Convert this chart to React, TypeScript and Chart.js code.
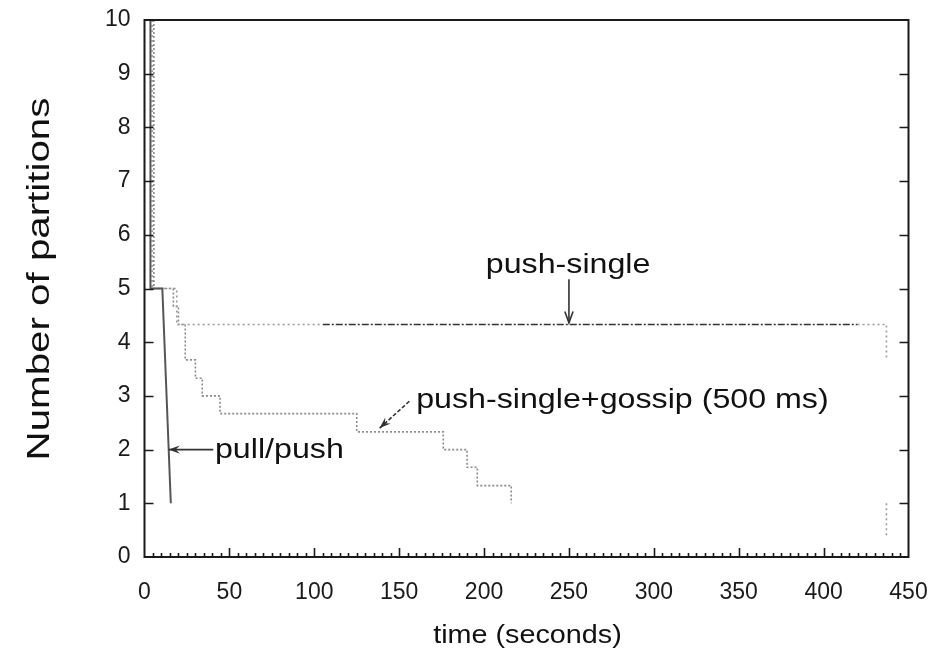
import React, { useEffect, useRef } from "react";
import { Chart, registerables } from "chart.js";

Chart.register(...registerables);

// ---- data ----
const pullPushTime = [3.5, 3.5, 10.5, 15.5];
const pullPushCount = [10, 5, 5, 1];

const pushSingleTime = [4.5, 4.5, 19, 19, 105, 420, 437, 437, 437, 437, 437];
const pushSingleCount = [10, 5, 5, 4.33, 4.33, 4.33, 4.33, 3.7, null, 1.0, 0.35];

const gossipTime = [5.5, 5.5, 17, 17, 20, 20, 24, 24, 30, 30, 34, 34, 44.5, 44.5, 125, 125, 176, 176, 190, 190, 196, 196, 216, 216];
const gossipCount = [10, 5, 5, 4.67, 4.67, 4.33, 4.33, 3.67, 3.67, 3.33, 3.33, 3, 3, 2.67, 2.67, 2.33, 2.33, 2, 2, 1.67, 1.67, 1.33, 1.33, 1];

const xMin = 0;
const xMax = 450;
const xMinorStep = 5;
const xMajorStep = 50;
const yMin = 0;
const yMax = 10;
const yStep = 1;

const xTitle = "time (seconds)";
const yTitle = "Number of partitions";

const annotationLabels = ["push-single", "push-single+gossip (500 ms)", "pull/push"];
const annotationTextAt = [[201, 5.44], [160, 2.92], [41.5, 1.99]];
const annotationFrom = [[250, 5.17], [156, 2.9], [40.5, 2.0]];
const annotationTo = [[250, 4.36], [138.5, 2.4], [14.2, 2.0]];

const FONT = '"Liberation Sans", Arial, Helvetica, sans-serif';

const toPoints = (xs: number[], ys: (number | null)[]) => xs.map((x, i) => ({ x, y: ys[i] }));

function drawArrow(ctx: CanvasRenderingContext2D, x0: number, y0: number, x1: number, y1: number, kind: string, dash: number[]) {
  const ang = Math.atan2(y1 - y0, x1 - x0);
  const hl = 12;
  const hw = 0.35;
  ctx.save();
  ctx.strokeStyle = "#333";
  ctx.fillStyle = "#333";
  ctx.lineWidth = 1.6;
  ctx.setLineDash(dash);
  ctx.beginPath();
  ctx.moveTo(x0, y0);
  ctx.lineTo(x1, y1);
  ctx.stroke();
  ctx.setLineDash([]);
  const ax = x1 - hl * Math.cos(ang - hw);
  const ay = y1 - hl * Math.sin(ang - hw);
  const bx = x1 - hl * Math.cos(ang + hw);
  const by = y1 - hl * Math.sin(ang + hw);
  ctx.beginPath();
  ctx.moveTo(ax, ay);
  ctx.lineTo(x1, y1);
  ctx.lineTo(bx, by);
  if (kind === "filled") {
    const mx = x1 - hl * 0.6 * Math.cos(ang);
    const my = y1 - hl * 0.6 * Math.sin(ang);
    ctx.lineTo(mx, my);
    ctx.closePath();
    ctx.fill();
  } else {
    ctx.stroke();
  }
  ctx.restore();
}

const framePlugin = {
  id: "framePlugin",
  afterDatasetsDraw(chart: any) {
    const { ctx, chartArea, scales } = chart;
    const xs = scales.x;
    const ys = scales.y;
    const { left, right, top, bottom } = chartArea;
    ctx.save();
    ctx.strokeStyle = "#1a1a1a";
    ctx.lineWidth = 2;
    ctx.strokeRect(left, top, right - left, bottom - top);
    ctx.lineWidth = 1.6;
    ctx.beginPath();
    for (let v = yMin + yStep; v < yMax; v += yStep) {
      const y = Math.round(ys.getPixelForValue(v)) + 0.5;
      ctx.moveTo(left, y);
      ctx.lineTo(left + 9, y);
      ctx.moveTo(right, y);
      ctx.lineTo(right - 9, y);
    }
    for (let v = xMin + xMinorStep; v < xMax; v += xMinorStep) {
      const x = Math.round(xs.getPixelForValue(v)) + 0.5;
      const len = v % xMajorStep === 0 ? 9 : 4;
      ctx.moveTo(x, bottom);
      ctx.lineTo(x, bottom - len);
    }
    ctx.stroke();
    ctx.restore();

    // annotations
    const sx = 1.15;
    ctx.save();
    ctx.fillStyle = "#111";
    ctx.font = `28px ${FONT}`;
    ctx.textBaseline = "middle";
    ctx.textAlign = "left";
    annotationLabels.forEach((label, i) => {
      const tx = xs.getPixelForValue(annotationTextAt[i][0]);
      const ty = ys.getPixelForValue(annotationTextAt[i][1]);
      ctx.save();
      ctx.translate(tx, ty);
      ctx.scale(sx, 1);
      ctx.fillText(label, 0, 0);
      ctx.restore();
      drawArrow(
        ctx,
        xs.getPixelForValue(annotationFrom[i][0]),
        ys.getPixelForValue(annotationFrom[i][1]),
        xs.getPixelForValue(annotationTo[i][0]),
        ys.getPixelForValue(annotationTo[i][1]),
        i === 0 ? "open" : "filled",
        i === 1 ? [4, 2] : []
      );
    });
    ctx.restore();

    // axis titles
    ctx.save();
    ctx.fillStyle = "#111";
    ctx.textAlign = "center";
    ctx.textBaseline = "middle";
    ctx.font = `25px ${FONT}`;
    ctx.save();
    ctx.translate((left + right) / 2 + 1, 636);
    ctx.scale(1.15, 1);
    ctx.fillText(xTitle, 0, 0);
    ctx.restore();
    ctx.font = `31px ${FONT}`;
    ctx.save();
    ctx.translate(40, 279);
    ctx.rotate(-Math.PI / 2);
    ctx.scale(1.3, 1);
    ctx.fillText(yTitle, 0, 0);
    ctx.restore();
    ctx.restore();
  },
};

export default function App() {
  const canvasRef = useRef<HTMLCanvasElement | null>(null);

  useEffect(() => {
    const canvas = canvasRef.current;
    if (!canvas) return;
    const chart = new Chart(canvas, {
      type: "scatter",
      data: {
        datasets: [
          {
            label: "pull/push",
            data: toPoints(pullPushTime, pullPushCount),
            showLine: true,
            borderColor: "#555",
            borderWidth: 2,
            pointRadius: 0,
            tension: 0,
          },
          {
            label: "push-single",
            data: toPoints(pushSingleTime, pushSingleCount),
            showLine: true,
            borderColor: "#9a9a9a",
            borderWidth: 1.6,
            borderDash: [2, 3],
            pointRadius: 0,
            tension: 0,
            spanGaps: false,
            segment: {
              borderColor: (c: any) => (c.p0.parsed.x >= 100 && c.p1.parsed.x <= 425 && c.p0.parsed.x !== c.p1.parsed.x ? "#333" : undefined),
              borderDash: (c: any) => (c.p0.parsed.x >= 100 && c.p1.parsed.x <= 425 && c.p0.parsed.x !== c.p1.parsed.x ? [7, 2, 2, 2] : undefined),
            },
          },
          {
            label: "push-single+gossip (500 ms)",
            data: toPoints(gossipTime, gossipCount),
            showLine: true,
            borderColor: "#8a8a8a",
            borderWidth: 1.6,
            borderDash: [2, 2],
            pointRadius: 0,
            tension: 0,
          },
        ],
      },
      options: {
        animation: false,
        responsive: true,
        maintainAspectRatio: false,
        layout: { padding: { left: 0, right: 42.5, top: 20, bottom: 0 } },
        plugins: { legend: { display: false }, tooltip: { enabled: false } },
        scales: {
          x: {
            type: "linear",
            min: xMin,
            max: xMax,
            afterFit: (s: any) => {
              s.height = 98;
              s.paddingLeft = 0;
              s.paddingRight = 0;
            },
            afterBuildTicks: (s: any) => {
              const t = [];
              for (let v = xMin; v <= xMax; v += xMajorStep) t.push({ value: v });
              s.ticks = t;
            },
            grid: { display: false, drawTicks: false },
            border: { display: false },
            ticks: {
              autoSkip: false,
              maxRotation: 0,
              padding: 22,
              color: "#1a1a1a",
              font: { family: FONT, size: 23 },
              callback: (v: any) => String(v),
            },
          },
          y: {
            type: "linear",
            min: yMin,
            max: yMax,
            afterFit: (s: any) => {
              s.width = 144.5;
              s.paddingTop = 0;
              s.paddingBottom = 0;
            },
            grid: { display: false, drawTicks: false },
            border: { display: false },
            ticks: {
              stepSize: yStep,
              autoSkip: false,
              padding: 14,
              color: "#1a1a1a",
              font: { family: FONT, size: 23 },
            },
          },
        },
      },
      plugins: [framePlugin],
    });
    return () => chart.destroy();
  }, []);

  return (
    <div style={{ position: "fixed", left: 0, top: 0, width: 951, height: 655, background: "#fff" }}>
      <canvas ref={canvasRef} />
    </div>
  );
}
